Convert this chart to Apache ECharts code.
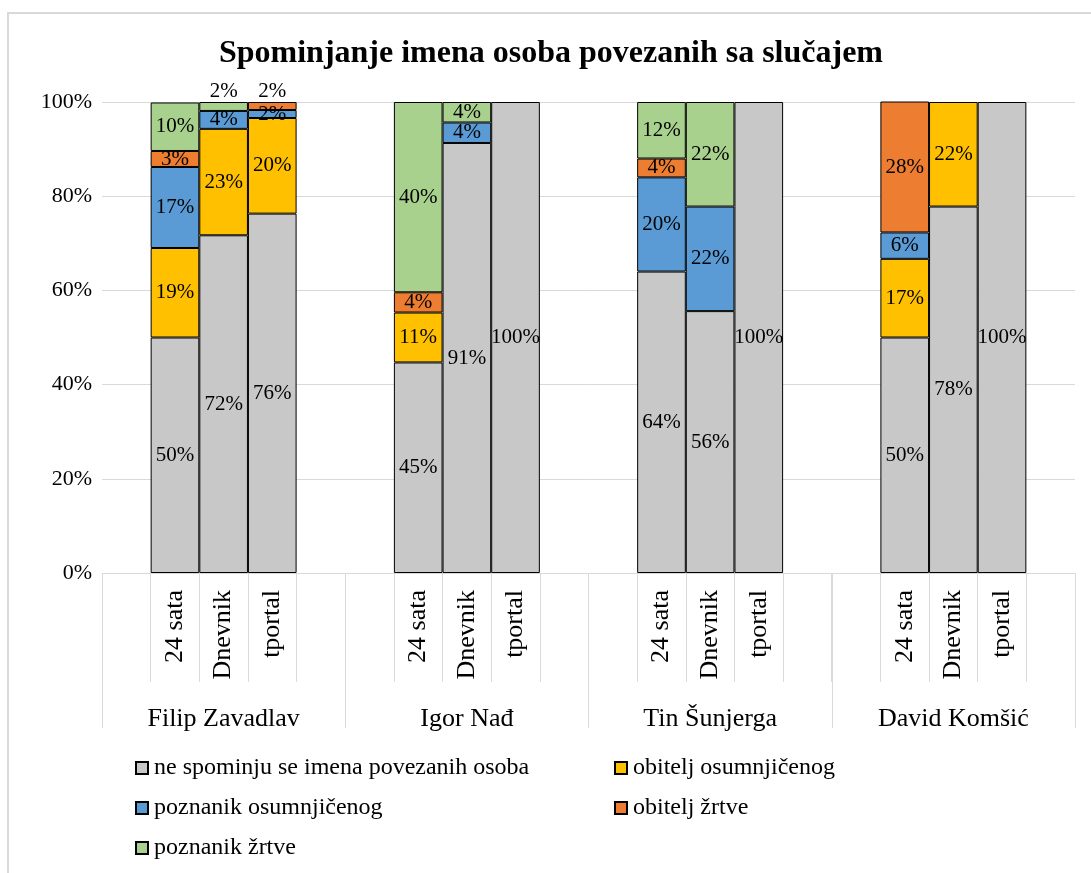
<!DOCTYPE html>
<html>
<head>
<meta charset="utf-8">
<script src="https://cdn.jsdelivr.net/npm/echarts@6/dist/echarts.min.js"></script>
<style>html,body{margin:0;padding:0;background:#fff;}#c{width:1091px;height:873px;}</style>
</head>
<body>
<div id="c"></div>
<script>
// ---- data ----
const groups = ['Filip Zavadlav', 'Igor Nađ', 'Tin Šunjerga', 'David Komšić'];
const outlets = ['24 sata', 'Dnevnik', 'tportal'];
const seriesNames = ['ne spominju se imena povezanih osoba', 'obitelj osumnjičenog', 'poznanik osumnjičenog', 'obitelj žrtve', 'poznanik žrtve'];
// values per group/outlet in order: Filip(24 sata, Dnevnik, tportal), Igor(...), Tin(...), David(...)
const neSpominju      = [50.0, 71.7, 76.3,  44.7, 91.3, 100,  64.0, 55.6, 100,  50.0, 77.8, 100];
const obiteljOsumnj   = [19.0, 22.6, 20.3,  10.6, 0,    0,    0,    0,    0,    16.7, 22.2, 0];
const poznanikOsumnj  = [17.2, 3.8,  1.7,   0,    4.35, 0,    20.0, 22.2, 0,    5.6,  0,    0];
const obiteljZrtve    = [3.4,  0,    1.7,   4.3,  0,    0,    4.0,  0,    0,    27.8, 0,    0];
const poznanikZrtve   = [10.3, 1.9,  0,     40.4, 4.35, 0,    12.0, 22.2, 0,    0,    0,    0];
const yTicks = [0, 20, 40, 60, 80, 100];

const seriesValues = [neSpominju, obiteljOsumnj, poznanikOsumnj, obiteljZrtve, poznanikZrtve];
const colors = ['#C8C8C8', '#FFC000', '#5B9BD5', '#ED7D31', '#A9D18E'];
const FONT = '"Liberation Serif", "Times New Roman", serif';

// build 20 slot category list: blank, 3 outlets, blank for each group
const cats = [];
const slotIndex = []; // maps slot -> data index or -1
groups.forEach((g, gi) => {
  cats.push(' '.repeat(gi * 2 + 1)); slotIndex.push(-1);
  outlets.forEach((o, oi) => { cats.push(o + '\u200b'.repeat(gi)); slotIndex.push(gi * 3 + oi); });
  cats.push(' '.repeat(gi * 2 + 2)); slotIndex.push(-1);
});

function topmostSeries(di) {
  let t = -1;
  seriesValues.forEach((arr, si) => { if (arr[di] > 0) t = si; });
  return t;
}

const series = seriesNames.map((name, si) => ({
  name,
  type: 'bar',
  stack: 'total',
  barCategoryGap: '0%',
  xAxisIndex: 0,
  itemStyle: { color: colors[si], borderColor: '#000', borderWidth: 1 },
  label: {
    show: true,
    position: 'inside',
    fontFamily: FONT,
    fontSize: 21,
    color: '#000',
    formatter: p => (p.value > 0 ? Math.round(p.value) + '%' : '')
  },
  labelLayout: { hideOverlap: false },
  data: slotIndex.map(di => {
    if (di < 0) return '-';
    const v = seriesValues[si][di];
    if (!(v > 0)) return '-';
    if (v < 2.5 && topmostSeries(di) === si) return { value: v, label: { position: 'top', distance: 0 } };
    return v;
  })
}));

const chart = echarts.init(document.getElementById('c'));
chart.setOption({
  animation: false,
  backgroundColor: '#fff',
  title: {
    text: 'Spominjanje imena osoba povezanih sa slučajem',
    left: 551, top: 38, textAlign: 'center', padding: 0,
    textStyle: { fontFamily: FONT, fontSize: 32, fontWeight: 'bold', color: '#000' }
  },
  graphic: [{
    type: 'rect', z: -10, silent: true,
    shape: { x: 8, y: 13, width: 1200, height: 1000 },
    style: { fill: 'none', stroke: '#D9D9D9', lineWidth: 2 }
  }],
  grid: { left: 102, right: 16, top: 102, bottom: 300, containLabel: false },
  legend: [
    {
      data: [seriesNames[0], seriesNames[2], seriesNames[4]],
      left: 130, top: 751, orient: 'vertical', itemGap: 16,
      itemWidth: 12, itemHeight: 12, icon: 'rect',
      textStyle: { fontFamily: FONT, fontSize: 24, color: '#000', padding: [0, 0, 0, 1] }
    },
    {
      data: [seriesNames[1], seriesNames[3]],
      left: 609, top: 751, orient: 'vertical', itemGap: 16,
      itemWidth: 12, itemHeight: 12, icon: 'rect',
      textStyle: { fontFamily: FONT, fontSize: 24, color: '#000', padding: [0, 0, 0, 1] }
    }
  ],
  xAxis: [
    {
      type: 'category', position: 'bottom', offset: 0,
      data: cats,
      axisLine: { show: true, lineStyle: { color: '#D9D9D9', width: 1 } },
      axisTick: { show: true, interval: 0, length: 109, lineStyle: { color: '#D9D9D9', width: 1 } },
      axisLabel: {
        interval: 0, rotate: 90, margin: 17,
        fontFamily: FONT, fontSize: 26, color: '#000',
        formatter: v => v.replace(/\u200b/g, '').trim()
      },
      splitLine: { show: false }
    },
    {
      type: 'category', position: 'bottom', offset: 0,
      data: groups,
      axisLine: { show: false },
      axisTick: { show: true, interval: 0, length: 155, lineStyle: { color: '#D9D9D9', width: 1 } },
      axisLabel: { interval: 0, margin: 133, fontFamily: FONT, fontSize: 26, color: '#000' },
      splitLine: { show: false }
    }
  ],
  yAxis: {
    type: 'value', min: yTicks[0], max: yTicks[yTicks.length - 1], interval: 20,
    axisLine: { show: false }, axisTick: { show: false },
    axisLabel: { formatter: '{value}%', margin: 10, fontFamily: FONT, fontSize: 22, color: '#000' },
    splitLine: { lineStyle: { color: '#D9D9D9', width: 1 } }
  },
  series
});
</script>
</body>
</html>
